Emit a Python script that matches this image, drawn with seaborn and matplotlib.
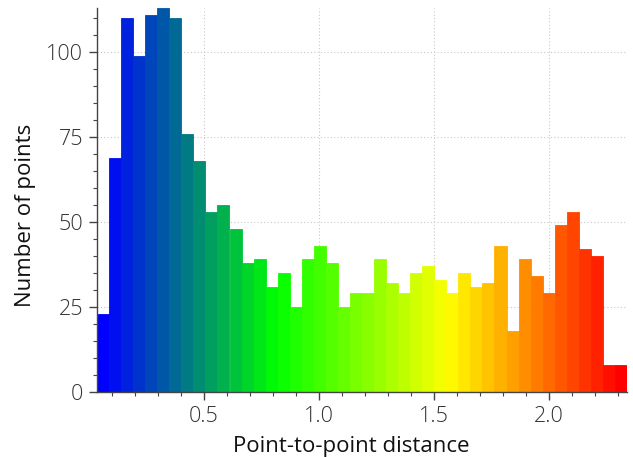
import numpy as np
import pandas as pd
import matplotlib
matplotlib.use("Agg")
import matplotlib.pyplot as plt
from matplotlib.colors import LinearSegmentedColormap
from matplotlib.ticker import MultipleLocator
import seaborn as sns

# Histogram data
x_min = 0.035
x_max = 2.34
n_bins = 44
counts = [23, 69, 110, 99, 111, 113, 110, 76, 68, 53, 55, 48, 38, 39, 31,
          35, 25, 39, 43, 38, 25, 29, 29, 39, 32, 29, 35, 37, 33, 29, 35,
          31, 32, 43, 18, 39, 34, 29, 49, 53, 42, 40, 8, 8]
x_ticks = [0.5, 1.0, 1.5, 2.0]
y_ticks = [0, 25, 50, 75, 100]
x_label = "Point-to-point distance"
y_label = "Number of points"

edges = np.linspace(x_min, x_max, n_bins + 1)
centers = (edges[:-1] + edges[1:]) / 2
df = pd.DataFrame({"distance": centers, "count": counts})

sns.set_theme(style="white")
plt.rcParams['font.family'] = ['Open Sans', 'DejaVu Sans']

fig = plt.figure(figsize=(6.33, 4.57), dpi=100)
ax = fig.add_axes([97/633, 1 - 392/457, (627-97)/633, (392-8)/457])

sns.histplot(data=df, x="distance", weights="count", bins=n_bins,
             binrange=(x_min, x_max), ax=ax,
             element="bars", linewidth=0, alpha=1, zorder=2)

cmap = LinearSegmentedColormap.from_list(
    "bgyr", ["#0000ff", "#00ff00", "#ffff00", "#ff0000"])
for i, p in enumerate(ax.patches):
    c = cmap(i / (len(ax.patches) - 1))
    p.set_facecolor(c)
    p.set_edgecolor(c)
    p.set_linewidth(0.6)

ax.set_xlim(x_min, x_max)
ax.set_ylim(0, max(counts))
ax.set_xticks(x_ticks)
ax.set_yticks(y_ticks)
ax.xaxis.set_minor_locator(MultipleLocator(0.1))
ax.yaxis.set_minor_locator(MultipleLocator(5))
ax.set_xticklabels([f"{v:.1f}" for v in x_ticks])

ax.grid(True, which="major", linestyle=(0, (1, 2)), color="#c8c8c8", linewidth=0.8, zorder=0)
ax.set_axisbelow(True)

for s in ["top", "right"]:
    ax.spines[s].set_visible(False)
for s in ["left", "bottom"]:
    ax.spines[s].set_color("#444444")
    ax.spines[s].set_linewidth(1.0)

ax.tick_params(which="major", direction="out", length=6, width=1, color="#444444",
               labelsize=15.5, labelcolor="#333333", pad=4, bottom=True, left=True)
ax.tick_params(which="minor", direction="out", length=3, width=0.8, color="#444444",
               bottom=True, left=True)
for lbl in ax.get_xticklabels() + ax.get_yticklabels():
    lbl.set_fontweight("light")

ax.set_xlabel(x_label, fontsize=16, color="#111111")
ax.set_ylabel(y_label, fontsize=16, color="#111111")
ax.xaxis.set_label_coords(0.479, -0.115)
ax.yaxis.set_label_coords(-0.115, 0.461)

fig.savefig("out.png", dpi=100)
